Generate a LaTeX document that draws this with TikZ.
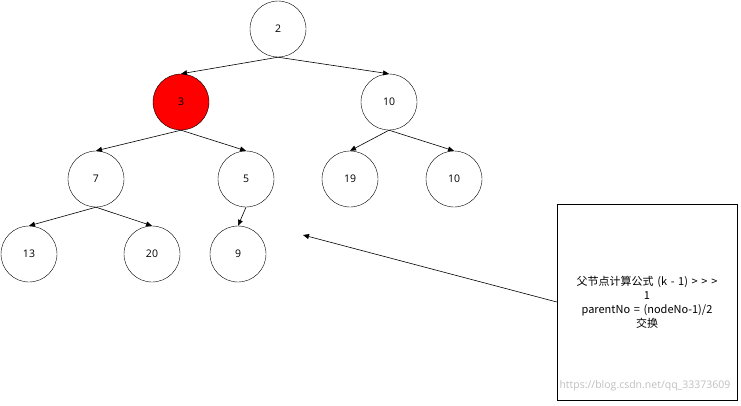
\documentclass[tikz,border=0pt]{standalone}
\usepackage{fontspec}
\setmainfont{Open Sans}
\newfontfamily\cjk{Noto Sans CJK SC}
\usetikzlibrary{arrows.meta}
\begin{document}
\begin{tikzpicture}[x=1pt,y=-1pt,
  n/.style={circle,draw,minimum size=56pt,inner sep=0pt,font=\fontsize{10.5}{12}\selectfont},
  e/.style={-{Triangle[length=6pt,width=5pt]},line width=0.6pt}]
\useasboundingbox (0,0) rectangle (741,405);
\node[n] (a) at (278,29) {2};
\node[n,fill=red] (b) at (181,102) {3};
\node[n] (c) at (389,102) {10};
\node[n] (d) at (96,179) {7};
\node[n] (f) at (246,179) {5};
\node[n] (g) at (350,179) {19};
\node[n] (h) at (454,179) {10};
\node[n] (i) at (29,254) {13};
\node[n] (j) at (152,254) {20};
\node[n] (k) at (238,254) {9};
\node[draw,minimum width=180pt,minimum height=196pt,text width=170pt,align=center,font=\cjk\fontsize{11}{14}\selectfont] (box) at (647,302)
  {父节点计算公式 (k - 1) > > >\\1\\parentNo = (nodeNo-1)/2\\交换};
\coordinate (t) at (303,235);
\draw[e] (a.south) -- (b.north); \draw[e] (a.south) -- (c.north);
\draw[e] (b.south) -- (d.north); \draw[e] (b.south) -- (f.north);
\draw[e] (c.south) -- (g.north); \draw[e] (c.south) -- (h.north);
\draw[e] (d.south) -- (i.north); \draw[e] (d.south) -- (j.north);
\draw[e] (f.south) -- (k.north);
\draw[e] (box.west) -- (t);
\node[text=gray!50,font=\fontsize{10.5}{12}\selectfont,anchor=east] (w) at (734,386) {https://blog.csdn.net/qq\_33373609};
\end{tikzpicture}
\end{document}
